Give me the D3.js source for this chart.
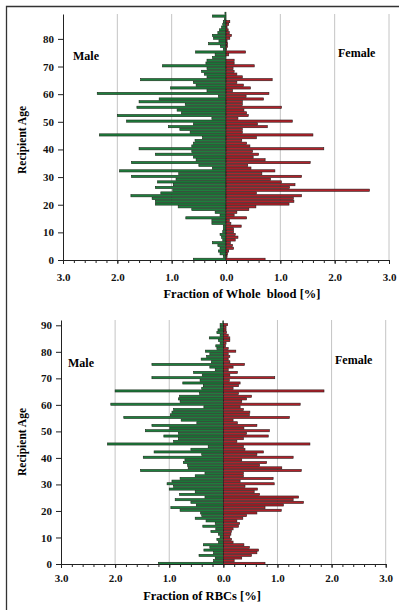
<!DOCTYPE html>
<html>
<head>
<meta charset="utf-8">
<script src="https://cdn.jsdelivr.net/npm/d3@7"></script>
<style>
  body { margin: 0; background: #fff; }
  svg { display: block; font-family: "Liberation Serif", "Times New Roman", serif; font-weight: bold; }
</style>
</head>
<body>
<svg id="chart" width="399" height="610"></svg>
<script>
// fraction [%] per recipient age, index = age
const maleWhole = [0.6, 0.05, 0.11, 0.14, 0.11, 0.15, 0.25, 0.06, 0.08, 0.11,
  0.06, 0.05, 0.05, 0.26, 0.26, 0.74, 0.11, 0.2, 0.63, 0.88,
  1.3, 1.3, 1.36, 1.75, 1.2, 0.98, 1.3, 0.97, 1.26, 0.92,
  1.74, 0.87, 1.96, 0.25, 0.5, 1.74, 0.55, 0.6, 1.3, 0.63,
  1.6, 0.63, 0.6, 0.57, 0.43, 2.33, 0.66, 0.85, 1.06, 0.6,
  1.83, 0.26, 2.0, 0.82, 0.9, 1.64, 0.75, 1.6, 1.23, 0.14,
  2.37, 0.35, 1.02, 0.55, 0.6, 1.57, 0.35, 0.4, 0.45, 0.35,
  1.17, 0.37, 0.35, 0.25, 0.2, 0.56, 0.05, 0.1, 0.32, 0.13,
  0.23, 0.25, 0.15, 0.12, 0.08, 0.06, 0.05, 0.03, 0.25, 0.02];
const femaleWhole = [0.72, 0.02, 0.03, 0.05, 0.14, 0.12, 0.08, 0.17, 0.22, 0.17,
  0.14, 0.14, 0.28, 0.09, 0.06, 0.38, 0.15, 0.2, 0.42, 0.55,
  1.16, 1.25, 1.24, 1.39, 0.56, 2.64, 1.17, 1.27, 1.02, 0.82,
  1.39, 0.66, 0.9, 0.46, 0.4, 1.55, 0.72, 0.5, 0.6, 0.49,
  1.8, 0.44, 0.38, 0.29, 0.56, 1.6, 0.3, 0.3, 0.76, 0.58,
  1.22, 0.22, 0.41, 0.38, 0.33, 1.02, 0.3, 0.3, 0.69, 0.37,
  0.79, 0.12, 0.45, 0.32, 0.2, 0.85, 0.3, 0.2, 0.15, 0.13,
  0.52, 0.15, 0.15, 0.0, 0.05, 0.36, 0.01, 0.03, 0.03, 0.02,
  0.07, 0.1, 0.06, 0.04, 0.02, 0.05, 0.07, 0.0, 0.0, 0.0];
const maleRBC = [1.2, 0.18, 0.15, 0.45, 0.18, 0.36, 0.25, 0.37, 0.09, 0.12,
  0.06, 0.09, 0.23, 0.14, 0.38, 0.15, 0.32, 0.52, 0.4, 0.42,
  0.8, 0.97, 0.5, 0.6, 0.89, 0.34, 0.81, 0.52, 1.0, 0.92,
  1.04, 0.95, 0.8, 0.52, 0.34, 1.53, 0.65, 0.66, 0.74, 0.71,
  1.48, 0.4, 1.28, 0.6, 0.28, 2.14, 0.92, 0.83, 1.1, 0.83,
  1.44, 0.99, 1.32, 0.49, 0.78, 1.84, 0.98, 0.95, 0.92, 0.36,
  2.08, 0.8, 0.83, 0.81, 0.44, 2.0, 0.4, 0.37, 0.75, 0.43,
  1.32, 0.39, 0.55, 0.15, 0.25, 1.32, 0.22, 0.41, 0.31, 0.25,
  0.33, 0.12, 0.14, 0.06, 0.09, 0.26, 0.06, 0.12, 0.1, 0.06,
  0.06, 0.01];
const femaleRBC = [0.77, 0.2, 0.34, 0.52, 0.62, 0.65, 0.48, 0.38, 0.18, 0.15,
  0.12, 0.14, 0.15, 0.18, 0.28, 0.3, 0.25, 0.36, 0.43, 0.62,
  1.07, 0.77, 1.11, 1.48, 1.29, 1.39, 0.67, 0.57, 0.63, 0.4,
  0.94, 0.31, 0.92, 0.37, 0.37, 1.44, 1.08, 0.67, 0.8, 0.34,
  1.29, 0.62, 0.74, 0.4, 0.37, 1.6, 0.25, 0.37, 0.83, 0.43,
  0.85, 0.38, 0.62, 0.26, 0.18, 1.22, 0.48, 0.49, 0.37, 0.31,
  1.42, 0.34, 0.43, 0.52, 0.28, 1.86, 0.18, 0.28, 0.31, 0.11,
  0.95, 0.12, 0.26, 0.09, 0.18, 0.39, 0.12, 0.09, 0.12, 0.09,
  0.23, 0.09, 0.04, 0.05, 0.12, 0.12, 0.09, 0.06, 0.05, 0.05,
  0.08, 0.0];

const ageTicksWhole = [0, 10, 20, 30, 40, 50, 60, 70, 80];
const ageTicksRBC = [0, 10, 20, 30, 40, 50, 60, 70, 80, 90];
const fracTicks = [-3, -2, -1, 0, 1, 2, 3];

const svg = d3.select('#chart');

// outer frame (left + top edge)
svg.append('path')
  .attr('d', 'M6.5,610 V6.5 H399')
  .attr('fill', 'none')
  .attr('stroke', '#333')
  .attr('stroke-width', 1.3);

function pyramid(o) {
  const g = svg.append('g');
  const x = d3.scaleLinear().domain([-3, 3]).range([o.left, o.right]);
  const y = d3.scaleLinear().domain([0, o.maxAge]).range([o.bottom, o.top]);
  const band = Math.abs(y(1) - y(0));
  const barH = band * 0.8;

  // vertical grid
  g.selectAll('line.grid')
    .data(fracTicks.filter(d => d !== -3))
    .enter().append('line')
    .attr('class', 'grid')
    .attr('x1', d => x(d)).attr('x2', d => x(d))
    .attr('y1', o.top).attr('y2', o.bottom)
    .attr('stroke', '#c4c4c4')
    .attr('stroke-width', 1);

  const rows = o.male.map((m, i) => ({ age: i, m: m, f: o.female[i] }));

  g.selectAll('rect.male')
    .data(rows).enter().append('rect')
    .attr('class', 'male')
    .attr('x', d => x(-d.m))
    .attr('width', d => x(0) - x(-d.m))
    .attr('y', d => y(d.age + 0.25) - barH / 2)
    .attr('height', barH)
    .attr('fill', '#1d7f3d')
    .attr('stroke', '#1a2a1a')
    .attr('stroke-width', 0.6);

  g.selectAll('rect.female')
    .data(rows).enter().append('rect')
    .attr('class', 'female')
    .attr('x', x(0))
    .attr('width', d => x(d.f) - x(0))
    .attr('y', d => y(d.age + 0.25) - barH / 2)
    .attr('height', barH)
    .attr('fill', '#b3212a')
    .attr('stroke', '#2a1a1a')
    .attr('stroke-width', 0.6);

  // y axis
  const yAxis = g.append('g')
    .attr('transform', `translate(${o.left},0)`)
    .call(d3.axisLeft(y).tickValues(o.ageTicks).tickSize(5).tickSizeOuter(0).tickPadding(4));
  yAxis.selectAll('text').attr('font-size', 11).attr('fill', '#111')
    .attr('font-family', '"Liberation Serif", serif').attr('font-weight', 'bold');

  // x axis, minor ticks every 0.2
  const minor = d3.range(-3, 3.001, 0.2).map(v => Math.round(v * 10) / 10);
  g.append('g')
    .attr('transform', `translate(0,${o.bottom})`)
    .call(d3.axisBottom(x).tickValues(minor).tickSize(3).tickSizeOuter(0).tickFormat(''));
  const xAxis = g.append('g')
    .attr('transform', `translate(0,${o.bottom})`)
    .call(d3.axisBottom(x).tickValues(fracTicks).tickSize(4).tickSizeOuter(0)
      .tickPadding(o.xPad).tickFormat(d => d3.format('.1f')(Math.abs(d))));
  xAxis.selectAll('text').attr('font-size', 11).attr('fill', '#111')
    .attr('font-family', '"Liberation Serif", serif').attr('font-weight', 'bold');
  g.selectAll('.domain').attr('stroke', '#222');
  g.selectAll('.tick line').attr('stroke', '#222');

  g.append('text')
    .attr('x', o.titleX).attr('y', o.titleY)
    .attr('text-anchor', 'middle')
    .attr('font-size', 12.5)
    .style('white-space', 'pre')
    .text(o.title);

  g.append('text')
    .attr('transform', `translate(${o.ylabX},${o.ylabY}) rotate(-90)`)
    .attr('text-anchor', 'middle')
    .attr('font-size', 11.5)
    .text('Recipient Age');

  g.append('text').attr('x', o.maleX).attr('y', o.labY).attr('font-size', 12).text('Male');
  g.append('text').attr('x', o.femaleX).attr('y', o.labY - 3).attr('font-size', 12).text('Female');
}

pyramid({
  male: maleWhole, female: femaleWhole, maxAge: 89, ageTicks: ageTicksWhole,
  left: 63, right: 389, top: 14, bottom: 260, xPad: 9,
  title: 'Fraction of Whole  blood [%]', titleX: 242, titleY: 298,
  ylabX: 26, ylabY: 140, maleX: 73, femaleX: 338, labY: 60
});

pyramid({
  male: maleRBC, female: femaleRBC, maxAge: 92, ageTicks: ageTicksRBC,
  left: 61, right: 385.7, top: 320, bottom: 564, xPad: 6,
  title: 'Fraction of RBCs [%]', titleX: 202, titleY: 600,
  ylabX: 26, ylabY: 442, maleX: 68, femaleX: 335, labY: 367
});
</script>
</body>
</html>
